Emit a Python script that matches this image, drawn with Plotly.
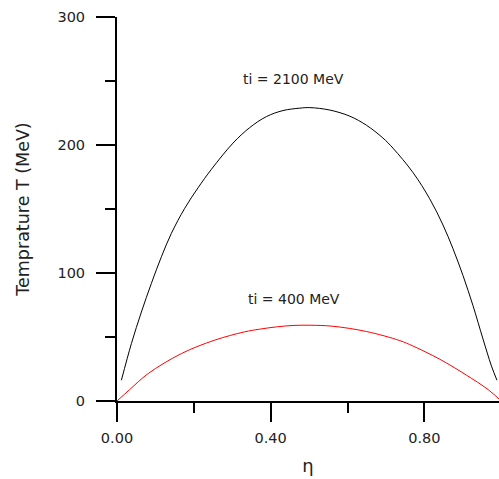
import plotly.graph_objects as go

# Data
eta_2100 = [0.0114, 0.0375, 0.0635, 0.0895, 0.1156, 0.1416, 0.1762, 0.2108, 0.2457,
            0.302, 0.345, 0.389, 0.432, 0.476, 0.502, 0.554, 0.606, 0.649, 0.692,
            0.7184, 0.7704, 0.8139, 0.8485, 0.8745, 0.9006, 0.9266, 0.9526, 0.9745, 0.989]
T_2100 = [16.2, 44.9, 69.5, 91.9, 112.7, 131.0, 150.5, 166.5, 181.0,
          201.5, 213.5, 222.2, 226.9, 228.8, 229.2, 227.3, 222.5, 215.5, 205.5,
          197.5, 178.5, 158.0, 137.5, 119.0, 98.0, 74.5, 48.5, 27.5, 16.2]

eta_400 = [0.0, 0.033, 0.081, 0.168, 0.254, 0.332, 0.371, 0.415, 0.458, 0.502,
           0.562, 0.649, 0.736, 0.770, 0.822, 0.857, 0.909, 0.966, 1.0]
T_400 = [0.0, 8.9, 21.4, 37.1, 47.5, 54.0, 56.1, 57.9, 59.0, 59.2,
         58.4, 54.3, 47.2, 43.0, 35.5, 29.8, 20.3, 8.9, 0.0]

labels = ["ti = 2100 MeV", "ti = 400 MeV"]
label_x = [0.46, 0.46]
label_y = [251.5, 79.5]

x_title = "η"
y_title = "Temprature T (MeV)"

FONT = "DejaVu Sans"
TXT = "#222"

fig = go.Figure()
fig.add_trace(go.Scatter(x=eta_2100, y=T_2100, mode="lines",
                         line=dict(color="black", width=1, shape="spline", smoothing=1.0),
                         showlegend=False))
fig.add_trace(go.Scatter(x=eta_400, y=T_400, mode="lines",
                         line=dict(color="#ff0000", width=1, shape="spline", smoothing=1.0),
                         showlegend=False))

for t, x, y in zip(labels, label_x, label_y):
    fig.add_annotation(x=x, y=y, xref="x", yref="y", text=t, showarrow=False,
                       font=dict(family=FONT, size=14, color=TXT),
                       xanchor="center", yanchor="middle")

fig.update_layout(
    width=499, height=479,
    margin=dict(l=117, r=0, t=17, b=78),
    paper_bgcolor="white", plot_bgcolor="white",
    font=dict(family=FONT, size=14, color=TXT),
)
fig.update_xaxes(
    range=[0, 0.9943], showgrid=False, zeroline=False,
    showline=True, linecolor="black", linewidth=2,
    ticks="outside", ticklen=19, tickwidth=2, tickcolor="black",
    tick0=0, dtick=0.4, tickformat=".2f", ticklabelstandoff=4,
    tickfont=dict(family=FONT, size=14.5, color=TXT),
    minor=dict(ticks="outside", ticklen=10, tickwidth=2, tickcolor="black", dtick=0.2, showgrid=False),
    title=dict(text=x_title, font=dict(family=FONT, size=18, color=TXT), standoff=14),
)
fig.update_yaxes(
    range=[0, 300], showgrid=False, zeroline=False,
    showline=True, linecolor="black", linewidth=2,
    ticks="outside", ticklen=19, tickwidth=2, tickcolor="black",
    tick0=0, dtick=100, ticklabelstandoff=8,
    tickfont=dict(family=FONT, size=14.5, color=TXT),
    minor=dict(ticks="outside", ticklen=10, tickwidth=2, tickcolor="black", dtick=50, showgrid=False),
    title=dict(text=y_title, font=dict(family=FONT, size=17.5, color=TXT), standoff=23),
)

fig.write_html("out.html")
